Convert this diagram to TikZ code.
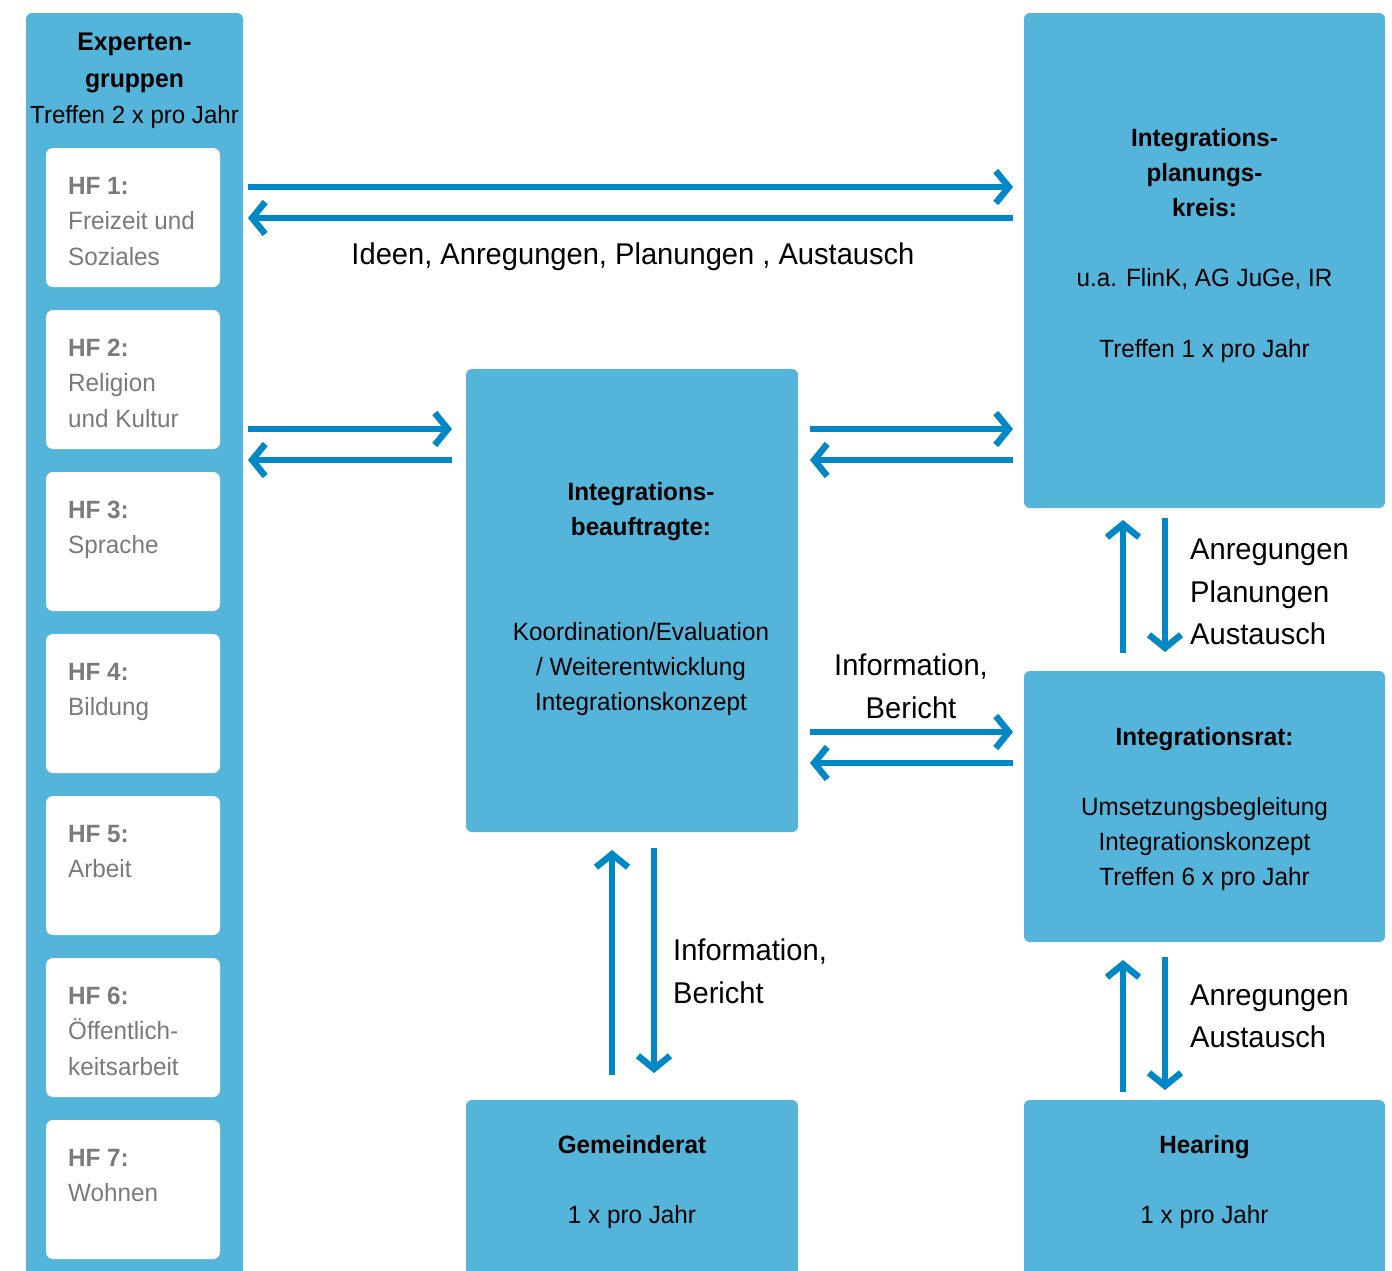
\documentclass[tikz,border=0pt]{standalone}
\usepackage{fontspec}
\setmainfont[FakeStretch=0.97]{Liberation Sans}
\usetikzlibrary{arrows.meta,calc}
\definecolor{boxc}{HTML}{55B4D9}
\definecolor{arrc}{HTML}{0088C6}
\definecolor{hfgrey}{HTML}{7A7A7A}
\begin{document}
\begin{tikzpicture}[x=1pt,y=-1pt,
  box/.style={fill=boxc, rounded corners=6pt, inner sep=0pt, outer sep=0pt, anchor=north west},
  hfbox/.style={fill=white, rounded corners=7pt, minimum width=174pt, minimum height=139pt, anchor=north west, inner sep=0pt, outer sep=0pt},
  boxtxt/.style={font=\fontsize{25}{35}\selectfont, align=center, anchor=north, inner sep=0pt},
  hftxt/.style={font=\fontsize{25}{35.3}\selectfont, text=hfgrey, align=left, anchor=north west, inner sep=0pt},
  lbl/.style={font=\fontsize{30}{42.5}\selectfont, inner sep=0pt},
  arr/.style={draw=arrc, line width=6.5pt, -{Straight Barb[length=13pt,width=32pt]}}]
\clip (0,0) rectangle (1392,1270);
\fill[white] (0,0) rectangle (1392,1270);

% left column
\node[box, minimum width=217pt, minimum height=1300pt] (exp) at (26,13) {};
\node[boxtxt, font=\fontsize{25.5}{36.5}\selectfont] (expt) at (134.5,33) {\textbf{Experten-}\\\textbf{gruppen}\\{\fontsize{24.8}{36.5}\selectfont Treffen 2 x pro Jahr}};
\node[hfbox] (hf1) at (46,148) {};
\node[hfbox] (hf2) at (46,310) {};
\node[hfbox] (hf3) at (46,472) {};
\node[hfbox] (hf4) at (46,634) {};
\node[hfbox] (hf5) at (46,796) {};
\node[hfbox] (hf6) at (46,958) {};
\node[hfbox] (hf7) at (46,1120) {};
\node[hftxt] (t1) at ($(hf1.north west)+(22pt,-29pt)$) {\textbf{HF 1:}\\Freizeit und\\Soziales};
\node[hftxt] (t2) at ($(hf2.north west)+(22pt,-29pt)$) {\textbf{HF 2:}\\Religion\\und Kultur};
\node[hftxt] (t3) at ($(hf3.north west)+(22pt,-29pt)$) {\textbf{HF 3:}\\Sprache};
\node[hftxt] (t4) at ($(hf4.north west)+(22pt,-29pt)$) {\textbf{HF 4:}\\Bildung};
\node[hftxt] (t5) at ($(hf5.north west)+(22pt,-29pt)$) {\textbf{HF 5:}\\Arbeit};
\node[hftxt] (t6) at ($(hf6.north west)+(22pt,-29pt)$) {\textbf{HF 6:}\\Öffentlich-\\keitsarbeit};
\node[hftxt] (t7) at ($(hf7.north west)+(22pt,-29pt)$) {\textbf{HF 7:}\\Wohnen};

% other boxes
\node[box, minimum width=361pt, minimum height=495pt] (ipk) at (1024,13) {};
\node[boxtxt] (ipkt) at (1204.5,128) {\textbf{Integrations-}\\\textbf{planungs-}\\\textbf{kreis:}\\[35.5pt]u.a. FlinK, AG JuGe, IR\\[35.5pt]Treffen 1 x pro Jahr};
\node[box, minimum width=332pt, minimum height=463pt] (ib) at (466,369) {};
\node[boxtxt] (ibt) at (641,482) {\textbf{Integrations-}\\\textbf{beauftragte:}\\[70pt]Koordination/Evaluation\\/ Weiterentwicklung\\Integrationskonzept};
\node[box, minimum width=361pt, minimum height=271pt] (ir) at (1024,671) {};
\node[boxtxt] (irt) at (1204.5,727) {\textbf{Integrationsrat:}\\[35pt]Umsetzungsbegleitung\\Integrationskonzept\\Treffen 6 x pro Jahr};
\node[box, minimum width=332pt, minimum height=200pt] (gr) at (466,1100) {};
\node[boxtxt] (grt) at (632,1135) {\textbf{Gemeinderat}\\[35pt]1 x pro Jahr};
\node[box, minimum width=361pt, minimum height=200pt] (hr) at (1024,1100) {};
\node[boxtxt] (hrt) at (1204.5,1135) {\textbf{Hearing}\\[35pt]1 x pro Jahr};

% arrows
\draw[arr] ($(exp.east |- 0,187)+(5pt,0)$) -- ($(ipk.west |- 0,187)+(-11pt,0)$);
\draw[arr] ($(ipk.west |- 0,218)+(-11pt,0)$) -- ($(exp.east |- 0,218)+(5pt,0)$);
\draw[arr] ($(exp.east |- 0,429)+(5pt,0)$) -- ($(ib.west |- 0,429)+(-14pt,0)$);
\draw[arr] ($(ib.west |- 0,460)+(-14pt,0)$) -- ($(exp.east |- 0,460)+(5pt,0)$);
\draw[arr] ($(ib.east |- 0,429)+(12pt,0)$) -- ($(ipk.west |- 0,429)+(-11pt,0)$);
\draw[arr] ($(ipk.west |- 0,460)+(-11pt,0)$) -- ($(ib.east |- 0,460)+(12pt,0)$);
\draw[arr] ($(ib.east |- 0,732)+(12pt,0)$) -- ($(ir.west |- 0,732)+(-11pt,0)$);
\draw[arr] ($(ir.west |- 0,763)+(-11pt,0)$) -- ($(ib.east |- 0,763)+(12pt,0)$);
\draw[arr] ($(gr.north -| 612,0)+(0,25pt)$) -- ($(ib.south -| 612,0)+(0,-18pt)$);
\draw[arr] ($(ib.south -| 654,0)+(0,-16pt)$) -- ($(gr.north -| 654,0)+(0,27pt)$);
\draw[arr] ($(ir.north -| 1123,0)+(0,18pt)$) -- ($(ipk.south -| 1123,0)+(0,-12pt)$);
\draw[arr] ($(ipk.south -| 1165,0)+(0,-10pt)$) -- ($(ir.north -| 1165,0)+(0,19pt)$);
\draw[arr] ($(hr.north -| 1123,0)+(0,8pt)$) -- ($(ir.south -| 1123,0)+(0,-18pt)$);
\draw[arr] ($(ir.south -| 1165,0)+(0,-15pt)$) -- ($(hr.north -| 1165,0)+(0,10pt)$);

% labels
\node[lbl] (l1) at (633,257) {Ideen, Anregungen, Planungen , Austausch};
\node[lbl, align=center] (l2) at (911,686.5) {Information,\\Bericht};
\node[lbl, align=left, anchor=west] (l3) at (673,971.5) {Information,\\Bericht};
\node[lbl, align=left, anchor=west] (l4) at (1190,592) {Anregungen\\Planungen\\Austausch};
\node[lbl, align=left, anchor=west] (l5) at (1190,1016.5) {Anregungen\\Austausch};
\end{tikzpicture}
\end{document}
